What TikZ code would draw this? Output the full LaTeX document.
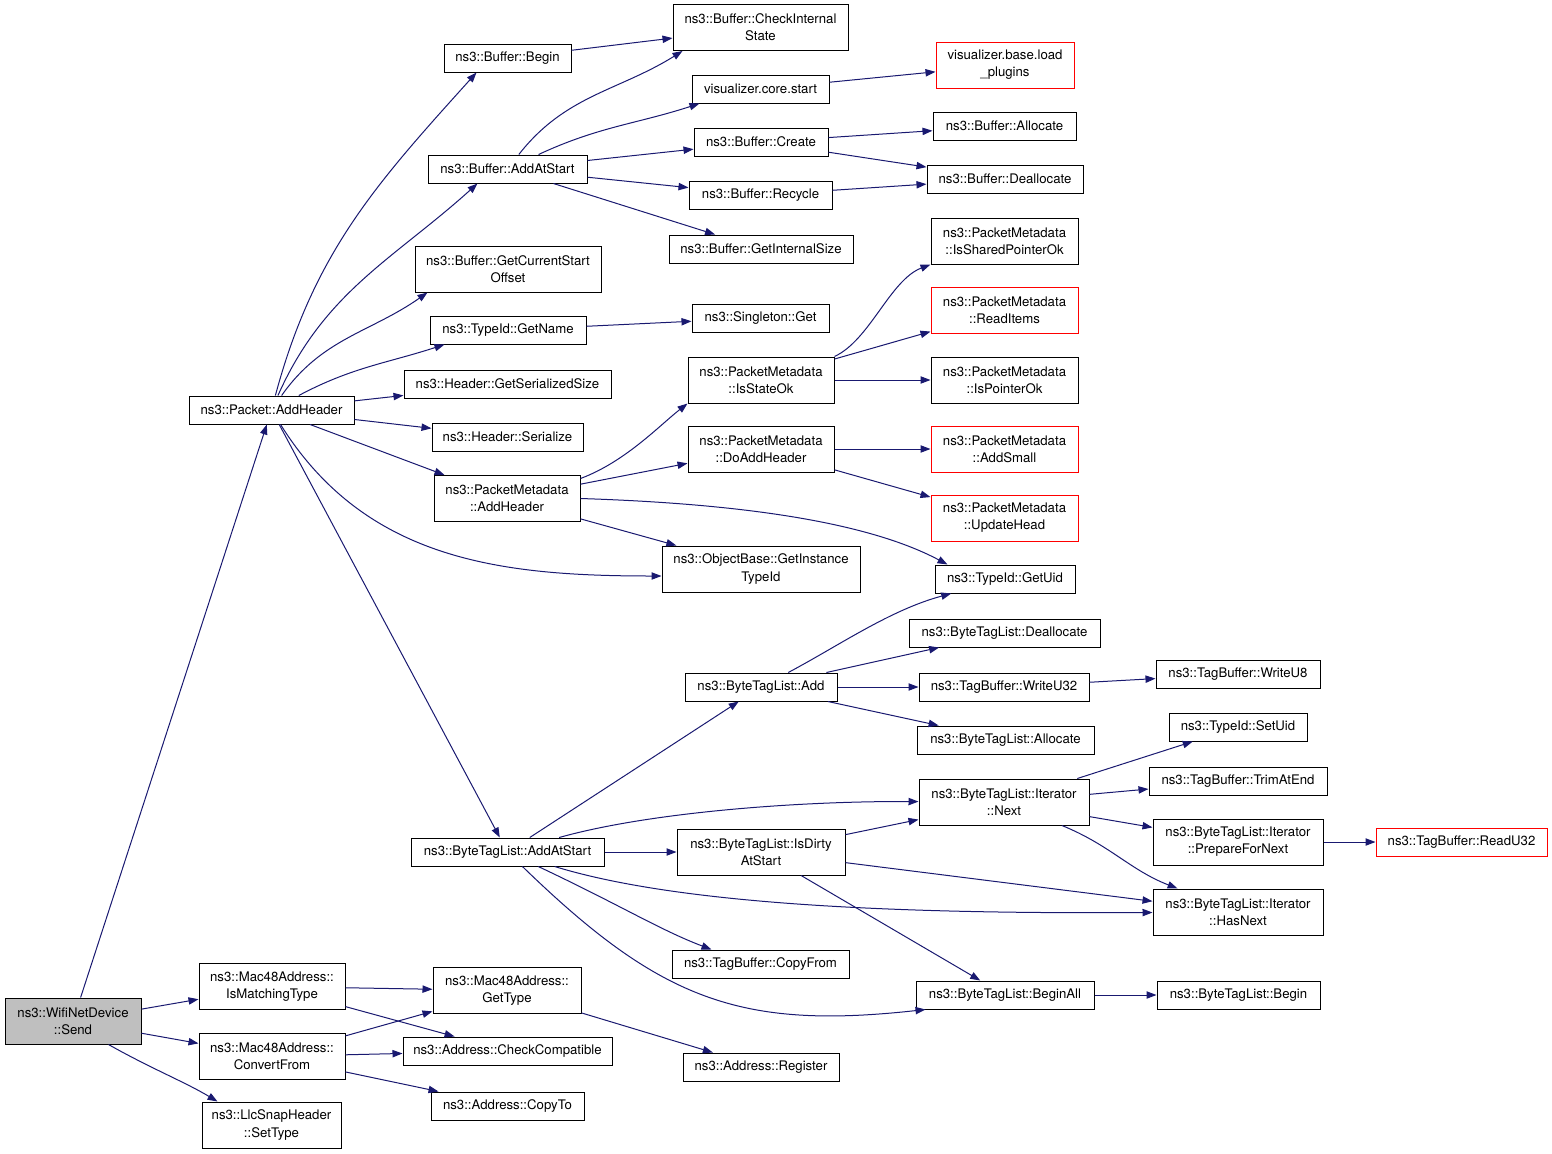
\documentclass[tikz,border=0pt]{standalone}
\usepackage{fontspec}
\setmainfont{TeX Gyre Heros}
\usetikzlibrary{arrows.meta}
\usetikzlibrary{calc}
\usepackage{xcolor}

\definecolor{edgeblue}{RGB}{25,25,112}
\definecolor{rootgray}{RGB}{191,191,191}

\tikzset{
  fn/.style={draw=black, line width=0.75pt, fill=white, inner sep=0pt, align=center,
    minimum height=21pt, font=\fontsize{9.9}{12.9}\selectfont},
  two/.style={minimum height=34.5pt},
  bw/.style={minimum width=#1*0.75pt},
  root/.style={fill=rootgray},
  undoc/.style={draw=red},
  call/.style={draw=edgeblue, line width=0.75pt, -{Triangle[length=7.5pt,width=5.5pt]}},
}

\begin{document}
\begin{tikzpicture}[x=0.75pt, y=0.75pt]

    \useasboundingbox (0,0) rectangle (1552,-1153);

    %nodes
    \node[fn, root, two, bw=136] (send) at (73,-1021) {ns3::WifiNetDevice\\::Send};
    \node[fn, bw=165] (pah) at (271.5,-410) {ns3::Packet::AddHeader};
    \node[fn, bw=127] (bbegin) at (507.5,-58) {ns3::Buffer::Begin};
    \node[fn, two, bw=175] (cis) at (760.5,-27.5) {ns3::Buffer::CheckInternal\\State};
    \node[fn, undoc, two, bw=138] (vload) at (1005,-65) {visualizer.base.load\\\_plugins};
    \node[fn, bw=137] (vstart) at (760.5,-89) {visualizer.core.start};
    \node[fn, bw=134] (bcreate) at (761,-142) {ns3::Buffer::Create};
    \node[fn, bw=143] (balloc) at (1004.5,-126) {ns3::Buffer::Allocate};
    \node[fn, bw=159] (bas) at (507.5,-169) {ns3::Buffer::AddAtStart};
    \node[fn, bw=156] (bdealloc) at (1005,-179) {ns3::Buffer::Deallocate};
    \node[fn, bw=143] (brecycle) at (760.5,-195) {ns3::Buffer::Recycle};
    \node[fn, bw=184] (bgis) at (761,-249) {ns3::Buffer::GetInternalSize};
    \node[fn, two, bw=186] (gcso) at (508,-269) {ns3::Buffer::GetCurrentStart\\Offset};
    \node[fn, two, bw=147] (ispso) at (1004.5,-241) {ns3::PacketMetadata\\::IsSharedPointerOk};
    \node[fn, undoc, two, bw=147] (readitems) at (1004.5,-310.5) {ns3::PacketMetadata\\::ReadItems};
    \node[fn, bw=156] (gname) at (508,-330) {ns3::TypeId::GetName};
    \node[fn, bw=137] (sget) at (760.5,-318) {ns3::Singleton::Get};
    \node[fn, two, bw=146] (isstate) at (761,-380) {ns3::PacketMetadata\\::IsStateOk};
    \node[fn, two, bw=147] (ispo) at (1004.5,-380) {ns3::PacketMetadata\\::IsPointerOk};
    \node[fn, bw=207] (gss) at (507.5,-384) {ns3::Header::GetSerializedSize};
    \node[fn, bw=151] (hser) at (507.5,-437) {ns3::Header::Serialize};
    \node[fn, two, bw=146] (doaddh) at (761,-449) {ns3::PacketMetadata\\::DoAddHeader};
    \node[fn, undoc, two, bw=147] (addsmall) at (1004.5,-449) {ns3::PacketMetadata\\::AddSmall};
    \node[fn, two, bw=146] (pmah) at (507,-498.5) {ns3::PacketMetadata\\::AddHeader};
    \node[fn, undoc, two, bw=147] (updhead) at (1004.5,-518) {ns3::PacketMetadata\\::UpdateHead};
    \node[fn, two, bw=198] (gitid) at (761,-569) {ns3::ObjectBase::GetInstance\\TypeId};
    \node[fn, bw=140] (getuid) at (1005,-579) {ns3::TypeId::GetUid};
    \node[fn, bw=191] (btldealloc) at (1004.5,-633) {ns3::ByteTagList::Deallocate};
    \node[fn, bw=152] (btladd) at (761,-687) {ns3::ByteTagList::Add};
    \node[fn, bw=170] (wu32) at (1004,-687) {ns3::TagBuffer::WriteU32};
    \node[fn, bw=164] (wu8) at (1238,-674) {ns3::TagBuffer::WriteU8};
    \node[fn, bw=177] (btlalloc) at (1005.5,-740) {ns3::ByteTagList::Allocate};
    \node[fn, bw=138] (setuid) at (1238,-727) {ns3::TypeId::SetUid};
    \node[fn, two, bw=170] (next) at (1004,-802) {ns3::ByteTagList::Iterator\\::Next};
    \node[fn, bw=178] (trim) at (1238,-781) {ns3::TagBuffer::TrimAtEnd};
    \node[fn, two, bw=170] (prep) at (1238,-842) {ns3::ByteTagList::Iterator\\::PrepareForNext};
    \node[fn, undoc, bw=171] (ru32) at (1461.5,-842) {ns3::TagBuffer::ReadU32};
    \node[fn, bw=193] (btlaas) at (507.5,-852) {ns3::ByteTagList::AddAtStart};
    \node[fn, two, bw=168] (dirty) at (761,-852) {ns3::ByteTagList::IsDirty\\AtStart};
    \node[fn, two, bw=170] (hasnext) at (1238,-912) {ns3::ByteTagList::Iterator\\::HasNext};
    \node[fn, bw=177] (copyfrom) at (760.5,-964) {ns3::TagBuffer::CopyFrom};
    \node[fn, bw=178] (beginall) at (1005,-995) {ns3::ByteTagList::BeginAll};
    \node[fn, bw=163] (btlbegin) at (1238.5,-995) {ns3::ByteTagList::Begin};
    \node[fn, two, bw=146] (ismatch) at (272,-986.5) {ns3::Mac48Address::\\IsMatchingType};
    \node[fn, two, bw=148] (gettype) at (507,-990.5) {ns3::Mac48Address::\\GetType};
    \node[fn, two, bw=146] (convfrom) at (272,-1056.5) {ns3::Mac48Address::\\ConvertFrom};
    \node[fn, bw=209] (checkc) at (507.5,-1051) {ns3::Address::CheckCompatible};
    \node[fn, bw=156] (areg) at (761,-1067) {ns3::Address::Register};
    \node[fn, bw=153] (copyto) at (507.5,-1106) {ns3::Address::CopyTo};
    \node[fn, two, bw=139] (settype) at (271.5,-1125) {ns3::LlcSnapHeader\\::SetType};

    % edges
    \foreach \a/\b in {send/pah, send/ismatch, send/convfrom,
        pah/gss, pah/hser, pah/pmah, pah/btlaas,
        bbegin/cis, bas/bcreate, bas/brecycle, bas/bgis,
        vstart/vload, bcreate/balloc, bcreate/bdealloc, brecycle/bdealloc, gname/sget,
        isstate/readitems, isstate/ispo, doaddh/addsmall, doaddh/updhead,
        pmah/doaddh, pmah/gitid,
        btlaas/btladd, btlaas/dirty,
        btladd/btldealloc, btladd/wu32, btladd/btlalloc, wu32/wu8,
        next/setuid, next/trim, next/prep, prep/ru32,
        dirty/next, dirty/hasnext, dirty/beginall, beginall/btlbegin,
        ismatch/gettype, ismatch/checkc, convfrom/gettype, convfrom/checkc,
        convfrom/copyto, gettype/areg}
      \draw[call] (\a) -- (\b);

    % curved edges
    \draw[call] ($(send.south east)+(-33,0)$) .. controls (150,-1068) and (185,-1082) .. ($(settype.north west)+(16,0)$);
    \draw[call] (pah) to[out=75,in=228] ($(bbegin.south west)+(33,0)$);
    \draw[call] (pah) to[out=66,in=222] ($(bas.south west)+(50,0)$);
    \draw[call] (pah) to[out=55,in=215] ($(gcso.south west)+(13,0)$);
    \draw[call] (pah) to[out=28,in=198] ($(gname.south west)+(15,0)$);
    \draw[call] (pah) to[out=-58,in=180] ($(gitid.west)+(0,-7)$);
    \draw[call] (bas) to[out=52,in=212] ($(cis.south west)+(10,0)$);
    \draw[call] (bas) to[out=25,in=198] ($(vstart.south west)+(8,0)$);
    \draw[call] ($(pmah.east)+(0,20)$) .. controls (625,-462) and (660,-425) .. (isstate.south west);
    \draw[call] (pmah.east) .. controls (720,-503) and (860,-518) .. ($(getuid.north west)+(13,0)$);
    \draw[call] (isstate.north east) .. controls (870,-340) and (890,-280) .. (ispso.south west);
    \draw[call] (btlaas) .. controls (650,-812) and (800,-801) .. (next);
    \draw[call] (btlaas) .. controls (680,-905) and (900,-914) .. (hasnext);
    \draw[call] (btlaas) .. controls (620,-905) and (660,-930) .. ($(copyfrom.north west)+(40,0)$);
    \draw[call] (btlaas) .. controls (660,-1000) and (740,-1030) .. ($(beginall.south west)+(10,0)$);
    \draw[call] (btladd) .. controls (840,-645) and (890,-610) .. (getuid);
    \draw[call] (next) .. controls (1110,-845) and (1130,-870) .. (hasnext);

\end{tikzpicture}
\end{document}
